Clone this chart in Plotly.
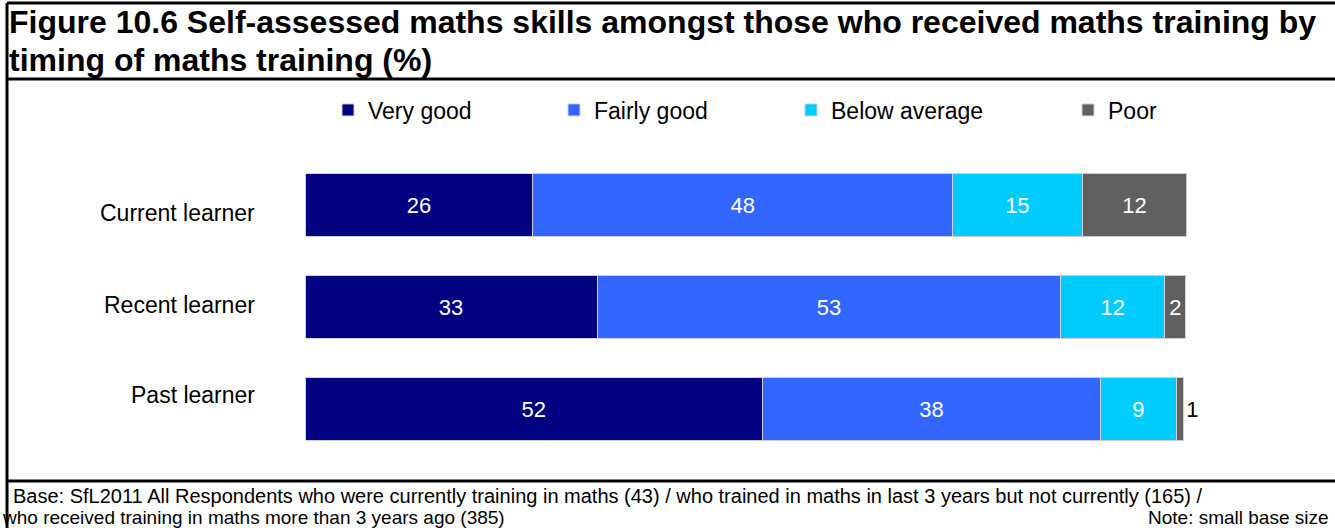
import plotly.graph_objects as go

# data (percent)
learners = ['Current learner', 'Recent learner', 'Past learner']
very_good = [25.9, 33.2, 52.0]
fairly_good = [47.7, 52.7, 38.4]
below_average = [14.7, 11.8, 8.6]
poor = [11.9, 2.4, 0.8]

series = ['Very good', 'Fairly good', 'Below average', 'Poor']
colours = ['#000080', '#3366FF', '#00CCFF', '#606060']

W, H = 1335, 528
L, R, T, B = 305, 0, 154, 68
FONT = 'Liberation Sans, Arial, sans-serif'


def px_x(px):
    return (px - L) / (W - L - R)


def px_y(py):
    return (H - B - py) / (H - T - B)


fig = go.Figure()
vals = [very_good, fairly_good, below_average, poor]
legend_text_x = [368, 594, 831, 1108]
for i, (name, v, c) in enumerate(zip(series, vals, colours)):
    lg = 'legend' if i == 0 else 'legend%d' % (i + 1)
    pos = 'inside'
    if name == 'Poor':
        pos = ['inside', 'inside', 'outside']
    fig.add_trace(go.Bar(
        name=name, y=learners, x=v, orientation='h',
        marker=dict(color=c, line=dict(color='#D0D0D0', width=1)),
        texttemplate='%{x:.0f}', textposition=pos,
        insidetextanchor='middle', constraintext='none',
        insidetextfont=dict(color='white', size=22, family=FONT),
        outsidetextfont=dict(color='black', size=22, family=FONT),
        cliponaxis=False, legend=lg, showlegend=True, hoverinfo='skip'))

legends = {}
for i, tx in enumerate(legend_text_x):
    key = 'legend' if i == 0 else 'legend%d' % (i + 1)
    legends[key] = dict(orientation='h', xref='container', yref='container',
                        x=(tx - 40) / W, xanchor='left',
                        y=1 - 110 / H, yanchor='middle', visible=True,
                        font=dict(size=23, family=FONT, color='black'),
                        bgcolor='rgba(0,0,0,0)', itemclick=False)

fig.update_layout(
    width=W, height=H, margin=dict(l=L, r=R, t=T, b=B),
    barmode='stack', bargap=0.39, showlegend=True,
    paper_bgcolor='white', plot_bgcolor='white',
    font=dict(family=FONT, color='black'),
    xaxis=dict(range=[0, (W - L - R) / 8.8], visible=False, fixedrange=True),
    yaxis=dict(range=[2.5, -0.5], showticklabels=False, showgrid=False,
               zeroline=False, showline=False, ticks='', fixedrange=True),
    **legends)

# category labels
label_shift = [-8, 2, 14]
for lab, ys in zip(learners, label_shift):
    fig.add_annotation(x=px_x(257), xref='paper', y=lab, yref='y',
                       text=lab, showarrow=False, xanchor='right',
                       yshift=ys, font=dict(size=23, family=FONT))

# title, one annotation per line
title_lines = ['Figure 10.6 Self-assessed maths skills amongst those who received maths training by',
               'timing of maths training (%)']
for txt, yy in zip(title_lines, [22, 60]):
    fig.add_annotation(x=px_x(7), y=px_y(yy), xref='paper', yref='paper',
                       xanchor='left', yanchor='middle', showarrow=False,
                       text='<b>%s</b>' % txt,
                       font=dict(size=32, family=FONT, color='black'))

# footer
fig.add_annotation(x=px_x(11), y=px_y(496), xref='paper', yref='paper',
                   xanchor='left', yanchor='middle', showarrow=False,
                   text='Base: SfL2011 All Respondents who were currently training in maths (43) / '
                        'who trained in maths in last 3 years but not currently (165) /',
                   font=dict(size=20, family=FONT))
fig.add_annotation(x=px_x(0), y=px_y(517), xref='paper', yref='paper',
                   xanchor='left', yanchor='middle', showarrow=False,
                   text='who received training in maths more than 3 years ago (385)',
                   font=dict(size=19, family=FONT))
fig.add_annotation(x=px_x(1331), y=px_y(517), xref='paper', yref='paper',
                   xanchor='right', yanchor='middle', showarrow=False,
                   text='Note: small base size',
                   font=dict(size=19, family=FONT))

# frame lines
line = dict(color='black', width=3)
fig.add_shape(type='line', xref='paper', yref='paper',
              x0=px_x(7), x1=px_x(7), y0=px_y(3), y1=px_y(H), line=line)
for yy in [3, 79, 481]:
    fig.add_shape(type='line', xref='paper', yref='paper',
                  x0=px_x(7), x1=px_x(W), y0=px_y(yy), y1=px_y(yy), line=line)

fig.write_html('out.html', config={'displayModeBar': False},
               post_script="document.body.style.margin='0';document.body.style.overflow='hidden';")
